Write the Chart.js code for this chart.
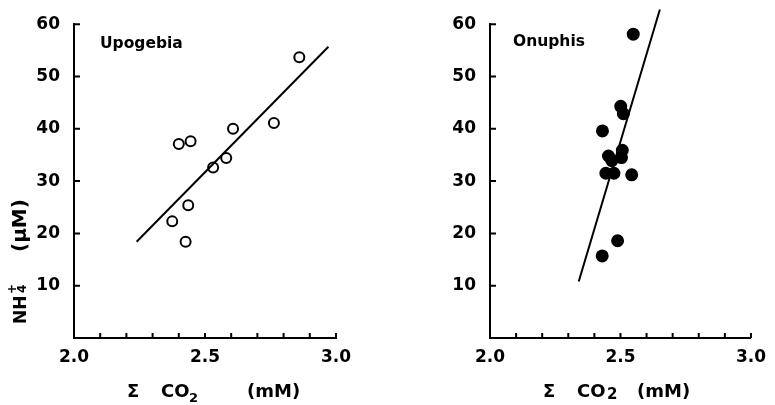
<!DOCTYPE html>
<html>
<head>
<meta charset="utf-8">
<script src="https://cdn.jsdelivr.net/npm/chart.js@4/dist/chart.umd.min.js"></script>
<style>
  html, body { margin: 0; padding: 0; background: #fff; }
  #wrap { position: relative; width: 775px; height: 405px; }
  .panel { position: absolute; top: 0; height: 405px; }
</style>
</head>
<body>
<div id="wrap">
  <div class="panel" style="left:0;width:387px"><canvas id="c1"></canvas></div>
  <div class="panel" style="left:387px;width:388px"><canvas id="c2"></canvas></div>
</div>
<script>
// ---- data ----
const upogebiaCO2 = [2.375, 2.400, 2.426, 2.436, 2.445, 2.531, 2.581, 2.607, 2.763, 2.860];
const upogebiaNH4 = [22.3, 37.1, 18.4, 25.4, 37.6, 32.6, 34.4, 40.0, 41.1, 53.7];
const upogebiaFitCO2 = [2.239, 2.971];
const upogebiaFitNH4 = [18.4, 55.7];

const onuphisCO2 = [2.430, 2.431, 2.444, 2.454, 2.467, 2.475, 2.489, 2.501, 2.504, 2.507, 2.511, 2.543, 2.549];
const onuphisNH4 = [15.7, 39.6, 31.5, 34.8, 33.9, 31.5, 18.6, 44.3, 34.5, 35.9, 42.9, 31.2, 58.1];
const onuphisFitCO2 = [2.340, 2.651];
const onuphisFitNH4 = [10.8, 62.8];

const xTickLabels = ['2.0', '2.5', '3.0'];
const yTickLabels = ['10', '20', '30', '40', '50', '60'];

const FONT = '"DejaVu Sans", "Liberation Sans", sans-serif';
Chart.defaults.font.family = FONT;
Chart.defaults.color = '#000';

function pts(xs, ys) { return xs.map((x, i) => ({ x: x, y: ys[i] })); }

// inward tick marks
const innerTicks = {
  id: 'innerTicks',
  afterDraw(chart) {
    const ctx = chart.ctx, a = chart.chartArea;
    const xs = chart.scales.x, ys = chart.scales.y;
    ctx.save();
    ctx.strokeStyle = '#000';
    ctx.lineWidth = 2;
    ctx.beginPath();
    xs.ticks.forEach(t => {
      const px = xs.getPixelForValue(t.value);
      ctx.moveTo(px, a.bottom); ctx.lineTo(px, a.bottom - 5);
    });
    ys.ticks.forEach(t => {
      if (t.value === 0) return;
      const py = ys.getPixelForValue(t.value);
      ctx.moveTo(a.left, py); ctx.lineTo(a.left + 6, py);
    });
    ctx.stroke();
    ctx.restore();
  }
};

function textPlugin(cfg) {
  return {
    id: 'texts',
    afterDraw(chart) {
      const ctx = chart.ctx;
      ctx.save();
      ctx.fillStyle = '#000';
      ctx.textBaseline = 'alphabetic';
      ctx.textAlign = 'left';
      // species label
      ctx.font = 'bold 15.5px ' + FONT;
      ctx.fillText(cfg.species, cfg.spX, cfg.spY);
      // x title
      ctx.font = 'bold 18px ' + FONT;
      ctx.fillText('Σ', cfg.sigX, 397);
      ctx.fillText('CO', cfg.coX, 397);
      ctx.font = 'bold ' + cfg.subSize + 'px ' + FONT;
      ctx.fillText('2', cfg.twoX, cfg.twoY);
      ctx.font = 'bold 18px ' + FONT;
      ctx.fillText('(mM)', cfg.mmX, 397);
      // y title
      if (cfg.yTitle) {
        ctx.translate(26, 0);
        ctx.rotate(-Math.PI / 2);
        ctx.font = 'bold 17px ' + FONT;
        ctx.fillText('NH', -324, 0);
        ctx.font = 'bold 12px ' + FONT;
        ctx.fillText('4', -293, 0);
        ctx.fillText('+', -294, -10);
        ctx.font = 'bold 20px ' + FONT;
        ctx.fillText('(μM)', -252, 0);
      }
      ctx.restore();
    }
  };
}

function makeChart(id, o) {
  const datasets = [
    {
      data: pts(o.fitX, o.fitY),
      showLine: true,
      borderColor: '#000',
      borderWidth: 2,
      pointRadius: 0,
      clip: false,
      order: 2
    },
    {
      data: pts(o.xs, o.ys),
      showLine: false,
      pointRadius: o.filled ? 5.5 : 5,
      pointBorderWidth: 2,
      pointBorderColor: '#000',
      pointBackgroundColor: o.filled ? '#000' : 'rgba(0,0,0,0)',
      clip: false,
      order: 1
    }
  ];
  return new Chart(document.getElementById(id), {
    type: 'scatter',
    data: { datasets: datasets },
    options: {
      responsive: true,
      maintainAspectRatio: false,
      animation: false,
      events: [],
      layout: { padding: { left: 0, top: o.top, right: o.right, bottom: 0 } },
      plugins: { legend: { display: false }, tooltip: { enabled: false } },
      scales: {
        x: {
          type: 'linear', min: 2.0, max: 3.0,
          grid: { display: false, drawTicks: false },
          border: { display: true, color: '#000', width: 2 },
          ticks: {
            stepSize: 0.1, autoSkip: false, maxRotation: 0, minRotation: 0,
            padding: 9,
            font: { size: 17, weight: 'bold' },
            callback: function (v) {
              const lbl = Number(v).toFixed(1);
              return xTickLabels.includes(lbl) ? lbl : '';
            }
          },
          afterFit: s => { s.height = 405 - 338; }
        },
        y: {
          type: 'linear', min: 0, max: 60,
          grid: { display: false, drawTicks: false },
          border: { display: true, color: '#000', width: 2 },
          ticks: {
            stepSize: 10, autoSkip: false, padding: 14,
            font: { size: 17, weight: 'bold' },
            callback: function (v) {
              const lbl = String(Math.round(v));
              return yTickLabels.includes(lbl) ? lbl : '';
            }
          },
          afterFit: s => { s.width = o.left; }
        }
      }
    },
    plugins: [innerTicks, textPlugin(o.text)]
  });
}

makeChart('c1', {
  xs: upogebiaCO2, ys: upogebiaNH4, fitX: upogebiaFitCO2, fitY: upogebiaFitNH4,
  filled: false, left: 74, top: 18, right: 387 - 336,
  text: { species: 'Upogebia', spX: 100, spY: 48, sigX: 127, coX: 161, twoX: 189, twoY: 402, subSize: 13, mmX: 247, yTitle: true }
});
makeChart('c2', {
  xs: onuphisCO2, ys: onuphisNH4, fitX: onuphisFitCO2, fitY: onuphisFitNH4,
  filled: true, left: 103, top: 20, right: 388 - 366,
  text: { species: 'Onuphis', spX: 126, spY: 46, sigX: 156, coX: 190, twoX: 220, twoY: 399, subSize: 15, mmX: 250, yTitle: false }
});
</script>
</body>
</html>
